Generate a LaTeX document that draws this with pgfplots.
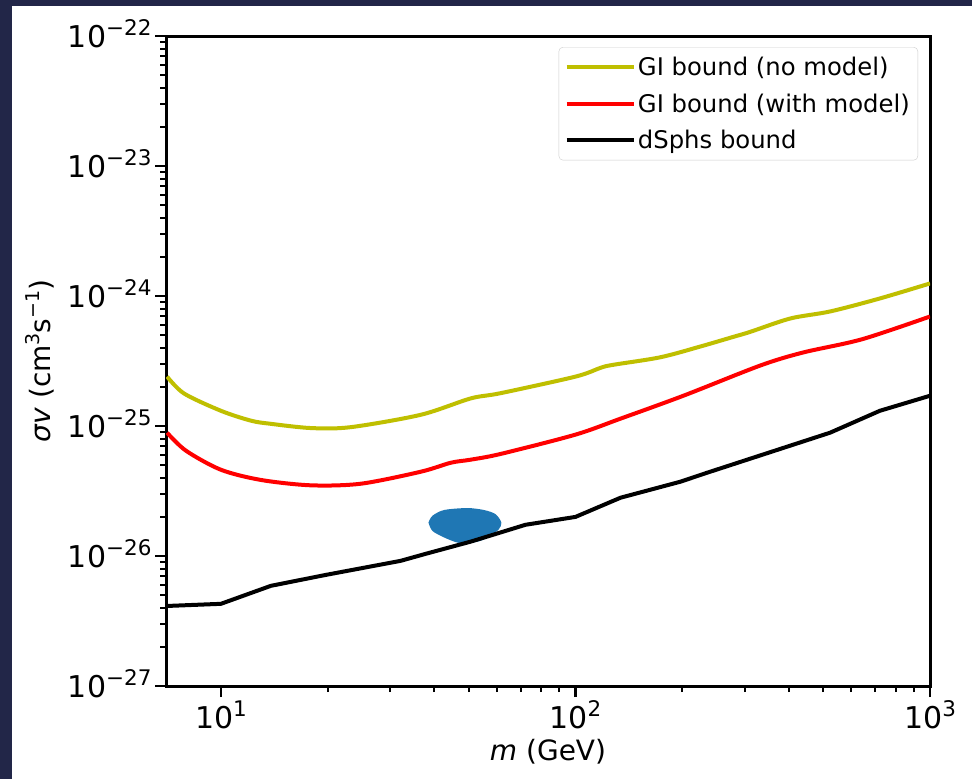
\documentclass[border=0pt]{standalone}
\usepackage{pgfplots}
\pgfplotsset{compat=1.18}
\usepackage{fontspec}
\setmainfont{DejaVu Sans}
\definecolor{darkbg}{RGB}{34,38,72}
\definecolor{mplyellow}{rgb}{0.75,0.75,0}
\definecolor{mplblue}{HTML}{1F77B4}
\newcommand\tsup[1]{\raisebox{12pt}{\fontsize{21.5}{21.5}\selectfont #1}}
\newcommand\lsup[1]{\raisebox{11pt}{\fontsize{19}{19}\selectfont #1}}
\begin{document}
\begin{tikzpicture}[x=1pt,y=1pt]
\fill[darkbg] (0,0) rectangle (972,779);
\fill[white] (12,0) rectangle (972,773);
\begin{axis}[
  at={(166pt,93pt)}, anchor=south west,
  scale only axis, width=764pt, height=650pt,
  xmode=log, ymode=log,
  xmin=7, xmax=1000, ymin=1e-27, ymax=1e-22,
  xtick={10,100,1000},
  xticklabels={10\tsup{1},10\tsup{2},10\tsup{3}},
  ytick={1e-27,1e-26,1e-25,1e-24,1e-23,1e-22},
  yticklabels={10\tsup{−27},10\tsup{−26},10\tsup{−25},10\tsup{−24},10\tsup{−23},10\tsup{−22}},
  tick align=outside,
  xtick pos=bottom, ytick pos=left,
  major tick length=11pt, minor tick length=6pt,
  every major tick/.append style={line width=2.6pt, black},
  every minor tick/.append style={line width=2pt, black},
  axis line style={line width=3pt},
  tick label style={font=\fontsize{30}{36}\selectfont},
  yticklabel style={anchor=base east, yshift=-11pt},
  xlabel={\textit{m} (GeV)},
  ylabel={\textit{σv} (cm\lsup{3}s\lsup{−1})},
  label style={font=\fontsize{28}{34}\selectfont},
  xlabel style={at={(axis description cs:0.5,-0.1138)}, anchor=base},
  ylabel style={at={(axis description cs:-0.1518,0.5)}, anchor=base},
  legend cell align=left,
  legend style={at={(axis description cs:1,1)}, anchor=north east, xshift=-12pt, yshift=-11pt,
    draw=black!20, rounded corners=4pt, fill=white, fill opacity=0.8, text opacity=1,
    font=\fontsize{24.3}{28}\selectfont, row sep=12.5pt, inner xsep=6pt, inner ysep=8pt},
  legend image code/.code={\draw[#1] (0pt,0pt) -- (54pt,0pt); \path (0pt,0pt) -- (67pt,0pt);},
]
\addplot[fill=mplblue, draw=none, smooth, forget plot] coordinates {
(38.5,1.81e-26) (39.5,2.04e-26) (42.6,2.26e-26) (49.5,2.34e-26) (55.2,2.26e-26)
(59.5,2.10e-26) (61.8,1.81e-26) (60.8,1.61e-26) (57.6,1.43e-26) (54.0,1.31e-26)
(49.5,1.25e-26) (46.4,1.27e-26) (42.6,1.39e-26) (39.5,1.56e-26) (38.5,1.81e-26)
} -- cycle;
\addplot[mplyellow, line width=4pt, smooth, tension=0.5] coordinates {
(7.05,2.40e-25) (7.87,1.78e-25) (10,1.31e-25) (12.15,1.10e-25) (13.83,1.04e-25)
(17.93,9.65e-26) (23.2,9.8e-26) (36.6,1.22e-25) (50.6,1.63e-25) (61.5,1.79e-25)
(100,2.40e-25) (117.5,2.80e-25) (127,2.95e-25) (173.5,3.38e-25) (225,4.09e-25)
(278.6,4.85e-25) (311,5.3e-25) (403.6,6.72e-25) (522.6,7.61e-25) (722,9.58e-25) (1000,1.25e-24)
};
\addlegendentry{GI bound (no model)}
\addplot[red, line width=4pt, smooth, tension=0.5] coordinates {
(7.05,8.89e-26) (7.97,6.46e-26) (10,4.61e-26) (12.96,3.85e-26) (17.93,3.50e-26)
(24.8,3.60e-26) (36.6,4.45e-26) (44.5,5.22e-26) (50.6,5.51e-26) (61.5,6.1e-26)
(100,8.59e-26) (134,1.14e-25) (201.5,1.71e-25) (332,2.92e-25) (438.7,3.68e-25)
(643,4.65e-25) (1000,6.96e-25)
};
\addlegendentry{GI bound (with model)}
\addplot[black, line width=4pt] coordinates {
(7.05,4.13e-27) (10,4.29e-27) (13.83,5.90e-27) (19.76,7.16e-27) (32.1,9.18e-27)
(37.8,1.04e-26) (50.6,1.29e-26) (72.3,1.74e-26) (100,2.00e-26) (134,2.81e-26)
(197.6,3.73e-26) (235.5,4.38e-26) (522.6,8.89e-26) (722,1.31e-25) (1000,1.71e-25)
};
\addlegendentry{dSphs bound}
\end{axis}
\end{tikzpicture}
\end{document}
